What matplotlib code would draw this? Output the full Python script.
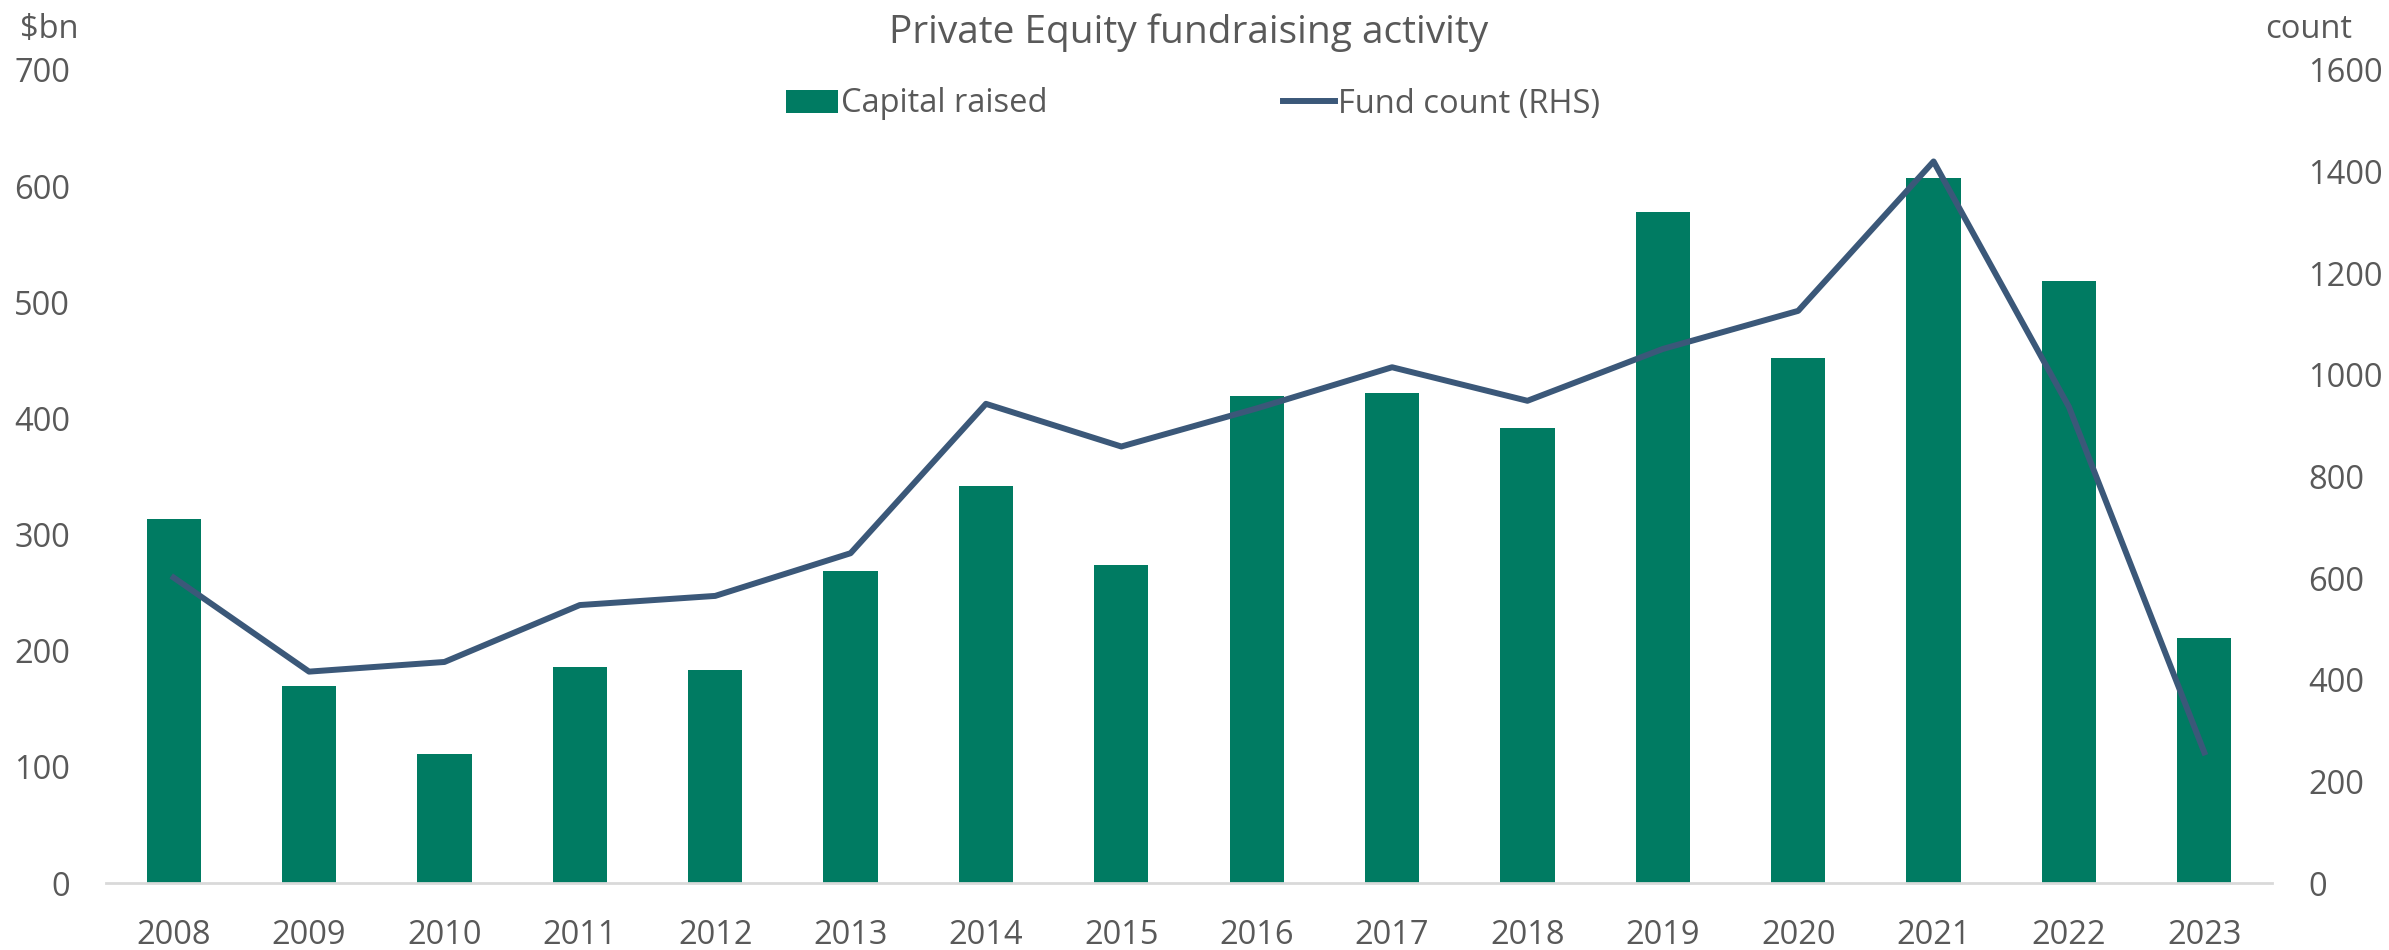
import matplotlib.pyplot as plt
import numpy as np

years = ['2008', '2009', '2010', '2011', '2012', '2013', '2014', '2015',
         '2016', '2017', '2018', '2019', '2020', '2021', '2022', '2023']
capital_raised = [313, 170, 111, 186, 183, 269, 342, 274,
                  419, 422, 392, 578, 452, 607, 518, 211]
fund_count = [601, 416, 435, 547, 565, 649, 943, 859,
              934, 1015, 949, 1051, 1126, 1420, 937, 257]

bar_color = '#007B62'
line_color = '#3B5879'
text_color = '#595959'

plt.rcParams['font.family'] = ['Open Sans', 'DejaVu Sans']

W, H = 2389, 950
fig = plt.figure(figsize=(W / 100, H / 100), dpi=100)
ax = fig.add_axes([106 / W, 1 - 883 / H, (2272 - 106) / W, (883 - 70) / H])
ax2 = ax.twinx()

x = np.arange(len(years))
bars = ax.bar(x, capital_raised, width=0.4, color=bar_color, label='Capital raised')
line, = ax2.plot(x, fund_count, color=line_color, lw=4.3, label='Fund count (RHS)')

ax.set_xlim(-0.5, len(years) - 0.5)
ax.set_ylim(0, 700)
ax.set_yticks(range(0, 701, 100))
ax2.set_ylim(0, 1600)
ax2.set_yticks(range(0, 1601, 200))
ax.set_xticks(x)
ax.set_xticklabels(years)

# only the light grey baseline stays
for a in (ax, ax2):
    for s in ('top', 'left', 'right', 'bottom'):
        a.spines[s].set_visible(False)
ax.spines['bottom'].set_visible(True)
ax.spines['bottom'].set_color('#D9D9D9')
ax.spines['bottom'].set_linewidth(2)

fs = 23.5
ax.tick_params(axis='both', length=0, labelsize=fs, labelcolor=text_color)
ax.tick_params(axis='y', pad=26)
ax.tick_params(axis='x', pad=26)
ax2.tick_params(axis='y', length=0, labelsize=fs, labelcolor=text_color, pad=26)

fig.text(1189 / W, 1 - 33 / H, 'Private Equity fundraising activity',
         ha='center', va='center', fontsize=28, color=text_color)
fig.text(20 / W, 1 - 30 / H, '\\$bn', ha='left', va='center',
         fontsize=fs, color=text_color)
fig.text(2265 / W, 1 - 30 / H, 'count', ha='left', va='center',
         fontsize=fs, color=text_color)

fig.legend(handles=[bars, line], loc='center', bbox_to_anchor=(1193 / W, 1 - 104 / H),
           ncol=2, frameon=False, fontsize=fs, labelcolor=text_color,
           handlelength=1.6, handletextpad=0.1, columnspacing=7.2)

fig.savefig('out.png', dpi=100)
